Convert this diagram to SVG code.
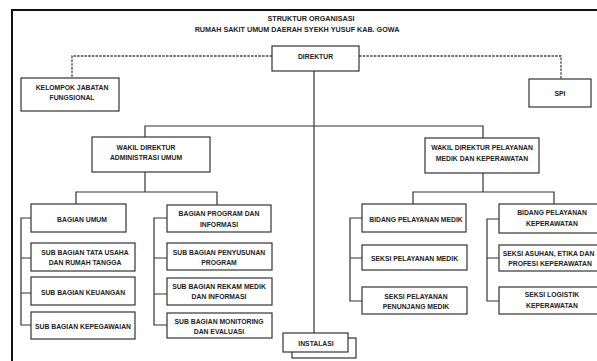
<svg xmlns="http://www.w3.org/2000/svg" width="597" height="361" viewBox="0 0 597 361">
<style>
  .box{fill:#fff;stroke:#333;stroke-width:1.2}
  .t{font-family:"Liberation Sans",Arial,sans-serif;font-weight:bold;font-size:6.8px;fill:#222;text-anchor:middle}
  .title{font-size:7.2px}
  .ln{fill:none;stroke:#333;stroke-width:1.2}
  .dash{fill:none;stroke:#444;stroke-width:1.3;stroke-dasharray:2.5 1.2}
  .frame{fill:none;stroke:#111;stroke-width:2}
</style>
<rect width="597" height="361" fill="#fff"/>
<path class="frame" d="M12,361 V10 H597"/>
<text class="t title" x="311" y="20.5">STRUKTUR ORGANISASI</text>
<text class="t title" x="297" y="31.5">RUMAH SAKIT UMUM DAERAH SYEKH YUSUF KAB. GOWA</text>

<g id="connectors">
  <path class="dash" d="M272,56 H72 V78"/>
  <path class="dash" d="M359,56 H561 V79"/>
  <path class="ln" d="M314,71 V333"/>
  <path class="ln" d="M145,137 V126 H483 V138"/>
  <path class="ln" d="M145,172 V192"/>
  <path class="ln" d="M76,204 V192 H217 V205"/>
  <path class="ln" d="M31,218 H21 V325 H31 M21,258 H31 M21,293 H31"/>
  <path class="ln" d="M167,218 H154 V325 H167 M154,258 H167 M154,294 H167"/>
  <path class="ln" d="M483,173 V192"/>
  <path class="ln" d="M413,204 V192 H554 V204"/>
  <path class="ln" d="M362,218 H350 V301 H362 M350,258 H362"/>
  <path class="ln" d="M499,219 H487 V301 H499 M487,258 H499"/>
</g>

<g id="direktur"><rect class="box" x="272" y="46" width="87" height="25"/><text class="t" x="315.5" y="58.5">DIREKTUR</text></g>
<g id="kelompok-jabatan-fungsional"><rect class="box" x="21" y="78" width="98" height="33"/><text class="t" x="72" y="89.5">KELOMPOK JABATAN</text><text class="t" x="72" y="99.5">FUNGSIONAL</text></g>
<g id="spi"><rect class="box" x="529" y="79" width="62" height="28"/><text class="t" x="560" y="95.5">SPI</text></g>
<g id="wadir-admin"><rect class="box" x="92" y="137" width="118" height="35"/><text class="t" x="146" y="149.5">WAKIL DIREKTUR</text><text class="t" x="146" y="159.5">ADMINISTRASI UMUM</text></g>
<g id="wadir-pelayanan"><rect class="box" x="425" y="138" width="114" height="35"/><text class="t" x="482" y="149.5">WAKIL DIREKTUR PELAYANAN</text><text class="t" x="482" y="160.5">MEDIK DAN KEPERAWATAN</text></g>
<g id="bagian-umum"><rect class="box" x="31" y="204" width="95" height="28"/><text class="t" x="82" y="221.5">BAGIAN UMUM</text></g>
<g id="sub-tata-usaha"><rect class="box" x="31" y="243" width="104" height="28"/><text class="t" x="85" y="254.5">SUB BAGIAN TATA USAHA</text><text class="t" x="85" y="264.5">DAN RUMAH TANGGA</text></g>
<g id="sub-keuangan"><rect class="box" x="31" y="277" width="104" height="28"/><text class="t" x="83" y="294.5">SUB BAGIAN KEUANGAN</text></g>
<g id="sub-kepegawaian"><rect class="box" x="31" y="312" width="104" height="27"/><text class="t" x="83" y="328.5">SUB BAGIAN KEPEGAWAIAN</text></g>
<g id="bagian-program"><rect class="box" x="167" y="205" width="104" height="27"/><text class="t" x="219" y="215.5">BAGIAN PROGRAM DAN</text><text class="t" x="219" y="226.5">INFORMASI</text></g>
<g id="sub-penyusunan"><rect class="box" x="167" y="243" width="105" height="27"/><text class="t" x="219" y="254.5">SUB BAGIAN PENYUSUNAN</text><text class="t" x="219" y="264.5">PROGRAM</text></g>
<g id="sub-rekam-medik"><rect class="box" x="167" y="278" width="105" height="27"/><text class="t" x="219" y="288.5">SUB BAGIAN REKAM MEDIK</text><text class="t" x="219" y="298.5">DAN INFORMASI</text></g>
<g id="sub-monitoring"><rect class="box" x="167" y="313" width="105" height="25"/><text class="t" x="219" y="324">SUB BAGIAN MONITORING</text><text class="t" x="219" y="334">DAN EVALUASI</text></g>
<g id="bidang-pelayanan-medik"><rect class="box" x="362" y="204" width="104" height="28"/><text class="t" x="416" y="221.5">BIDANG PELAYANAN MEDIK</text></g>
<g id="seksi-pelayanan-medik"><rect class="box" x="362" y="245" width="105" height="25"/><text class="t" x="414.5" y="260.5">SEKSI PELAYANAN MEDIK</text></g>
<g id="seksi-penunjang-medik"><rect class="box" x="362" y="287" width="105" height="27"/><text class="t" x="416" y="298.5">SEKSI PELAYANAN</text><text class="t" x="416" y="308.5">PENUNJANG MEDIK</text></g>
<g id="bidang-keperawatan"><rect class="box" x="499" y="204" width="101" height="29"/><text class="t" x="552" y="214.5">BIDANG PELAYANAN</text><text class="t" x="552" y="225.5">KEPERAWATAN</text></g>
<g id="seksi-asuhan"><rect class="box" x="499" y="245" width="101" height="26"/><text class="t" x="548.5" y="255.5">SEKSI ASUHAN, ETIKA DAN</text><text class="t" x="550" y="265.5">PROFESI KEPERAWATAN</text></g>
<g id="seksi-logistik"><rect class="box" x="499" y="287" width="101" height="27"/><text class="t" x="552" y="296.5">SEKSI LOGISTIK</text><text class="t" x="552" y="307.5">KEPERAWATAN</text></g>
<g id="instalasi"><rect class="box" x="292" y="338" width="64" height="20"/><rect class="box" x="283" y="333" width="65" height="19"/><text class="t" x="316" y="345.5">INSTALASI</text></g>
</svg>
